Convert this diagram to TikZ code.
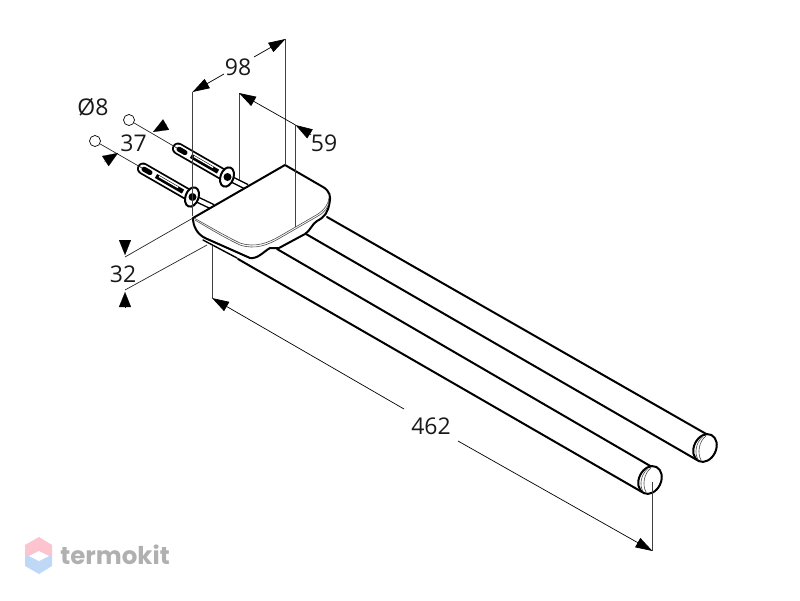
\documentclass[tikz,border=0pt]{standalone}
\usepackage{fontspec}
\setmainfont{Open Sans}
\newfontfamily\brandfont{Poppins}
\usetikzlibrary{arrows.meta}
\definecolor{brandpink}{HTML}{FBC4CE}
\definecolor{brandblue}{HTML}{BFD8F6}
\definecolor{brandgrey}{HTML}{B0B0B0}

\begin{document}
\begin{tikzpicture}[x=1pt, y=-1pt, inner sep=0pt,
	label/.style={font=\fontsize{23}{26}\selectfont, text=black!90},
	thinline/.style={line width=0.7pt, black!85},
	extline/.style={line width=0.8pt, black!75},
	dimline/.style={line width=0.7pt, black, -{Triangle[length=17pt, width=10.5pt]}},
	solidline/.style={line width=2pt, black, line cap=round, line join=round},
	edgeline/.style={line width=0.6pt, black!70},
	pointer/.style={line width=0.1pt, -{Triangle[length=15pt, width=12pt]}}]
	\useasboundingbox (0,0) rectangle (800,600);

	% points of the dimensions
	\coordinate (extA) at (192.5,92);
	\coordinate (extAend) at (192.5,216);
	\coordinate (extB) at (285.5,39);
	\coordinate (extBend) at (285.5,165);
	\coordinate (extC) at (239,93);
	\coordinate (extCend) at (239,180);
	\coordinate (extD) at (295.5,125);
	\coordinate (extDend) at (295.5,227);
	\coordinate (extE) at (212,298);
	\coordinate (extEend) at (212,246);
	\coordinate (extF) at (652.5,551);
	\coordinate (extFend) at (652.5,482);
	\coordinate (plateLeft) at (193,218);
	\coordinate (plateUnder) at (207,245);
	\coordinate (markUp) at (125,257);
	\coordinate (markDown) at (125,290);

	% rods
	\draw[solidline] (327,217) -- (708,435);
	\draw[solidline] (306,234) -- (697,460);
	\draw[solidline] (277,249) -- (652,467);
	\draw[solidline] (238,259) -- (642,492);
	\foreach \cx/\cy in {705/448, 650/480} {
		\draw[solidline, fill=white, rotate around={64:(\cx,\cy)}] (\cx,\cy) ellipse [x radius=14.5pt, y radius=11pt];
		\draw[edgeline] (\cx+1,\cy-12) .. controls (\cx-6,\cy-7) and (\cx-8,\cy+5) .. (\cx-4,\cy+12);
		\draw[edgeline] (\cx-2,\cy-11.5) .. controls (\cx-9,\cy-6) and (\cx-11,\cy+5) .. (\cx-7,\cy+11.5);
	}

	% dowels
	\foreach \tx/\ty/\ex/\ey in {177/148/247/187, 142/168/213/207} {
		\draw[black, line width=6.5pt] (\tx+50,\ty+29) -- (\ex,\ey);
		\draw[white, line width=3.6pt] (\tx+50,\ty+29) -- (\ex,\ey);
		\draw[black, line width=12pt, line cap=round] (\tx+1,\ty+0.6) -- (\tx+46,\ty+26.5);
		\draw[white, line width=8.4pt, line cap=round] (\tx+1,\ty+0.6) -- (\tx+46,\ty+26.5);
		\draw[black, line width=5pt, line cap=round] (\tx+2,\ty+1.2) -- (\tx+8,\ty+4.6);
		\draw[black, line width=4.5pt] (\tx+14,\ty+8) -- (\tx+41,\ty+23.6);
		\draw[white, line width=1.3pt] (\tx+17,\ty+8.5) -- (\tx+36,\ty+19.5);
		\draw[line width=2pt, fill=white, rotate around={70:(\tx+50,\ty+29)}] (\tx+50,\ty+29) ellipse [x radius=10pt, y radius=6.5pt];
		\fill[black] (\tx+50.5,\ty+29) circle (4pt);
	}

	% plate
	\draw[solidline, fill=white] (plateLeft) -- (285,165) -- (323,187)
		.. controls (330,191) and (331,197) .. (329.5,203)
		.. controls (328,212) and (325,217) .. (317,221)
		.. controls (312,224) and (310,231) .. (305,234)
		-- (279,248) -- (270,248)
		.. controls (263,252) and (258,259) .. (250,258)
		-- (205,238)
		.. controls (197,234) and (193,226) .. cycle;
	\draw[edgeline] (195,220) .. controls (205,226) and (225,238) .. (240,245)
		.. controls (255,250) and (268,245) .. (280,238)
		-- (318,216) .. controls (325,212) and (329,207) .. (329,200);
	\draw[edgeline] (194,218) .. controls (205,224) and (225,236) .. (240,243)
		.. controls (255,248) and (268,243) .. (280,236)
		-- (318,214) .. controls (324,210) and (328,205) .. (329,198);
	\draw[solidline, line width=1.4pt] (203,240) -- (237,258);

	% extension lines
	\draw[extline] (extA) -- (extAend);
	\draw[extline] (extB) -- (extBend);
	\draw[extline] (extC) -- (extCend);
	\draw[extline] (extD) -- (extDend);
	\draw[extline] (extE) -- (extEend);
	\draw[extline] (extF) -- (extFend);

	% labels
	\node[label] (dimTop) at (238,67) {98};
	\node[label] (dimDepth) at (324,143) {59};
	\node[label] (dimHole) at (133.5,143) {37};
	\node[label] (dimBore) at (93,107) {Ø8};
	\node[label] (dimHeight) at (123,274) {32};
	\node[label] (dimLength) at (431,426) {462};

	% drill holes
	\node[draw, circle, minimum size=11pt, line width=0.7pt] (holeUp) at (129,120) {};
	\node[draw, circle, minimum size=11pt, line width=0.7pt] (holeLow) at (95,141) {};
	\coordinate (dowelUp) at (177,148);
	\coordinate (dowelLow) at (142,168);
	\draw[thinline] (holeUp) -- (dowelUp);
	\draw[thinline] (holeLow) -- (dowelLow);

	% dimensions
	\coordinate (gapA) at (224,74);
	\coordinate (gapB) at (254,57);
	\draw[dimline] (gapA) -- (extA);
	\draw[dimline] (gapB) -- (extB);
	\coordinate (depthEnd) at (311,134.5);
	\draw[dimline] (extD) -- (extC);
	\draw[dimline] (depthEnd) -- (extD);
	\coordinate (gapC) at (404,409);
	\coordinate (gapD) at (458,441);
	\draw[dimline] (gapC) -- (extE);
	\draw[dimline] (gapD) -- (extF);
	\draw[thinline] (plateLeft) -- (markUp);
	\draw[thinline] (plateUnder) -- (markDown);

	% small arrows
	\coordinate (tipA) at (153,132);
	\coordinate (tailA) at (167,124);
	\coordinate (tipB) at (118,153);
	\coordinate (tailB) at (104,162);
	\draw[pointer] (tailA) -- (tipA);
	\draw[pointer] (tailB) -- (tipB);
	\coordinate (tipC) at (125,255);
	\coordinate (tailC) at (125,240);
	\coordinate (tipD) at (125,292);
	\coordinate (tailD) at (125,307);
	\draw[pointer] (tailC) -- (tipC);
	\draw[pointer] (tailD) -- (tipD);

	% watermark
	\fill[brandpink] (39,537) -- (52,545) -- (52,556) -- (25,556) -- (25,545) -- cycle;
	\fill[brandblue] (39,574) -- (52,566) -- (52,556) -- (25,556) -- (25,566) -- cycle;
	\fill[white] (29,556) -- (39,551) -- (49,556) -- (39,561) -- cycle;
	\node[font=\brandfont\bfseries\fontsize{24.5}{27}\selectfont, text=brandgrey] (brand) at (115,555) {termokit};
\end{tikzpicture}
\end{document}
